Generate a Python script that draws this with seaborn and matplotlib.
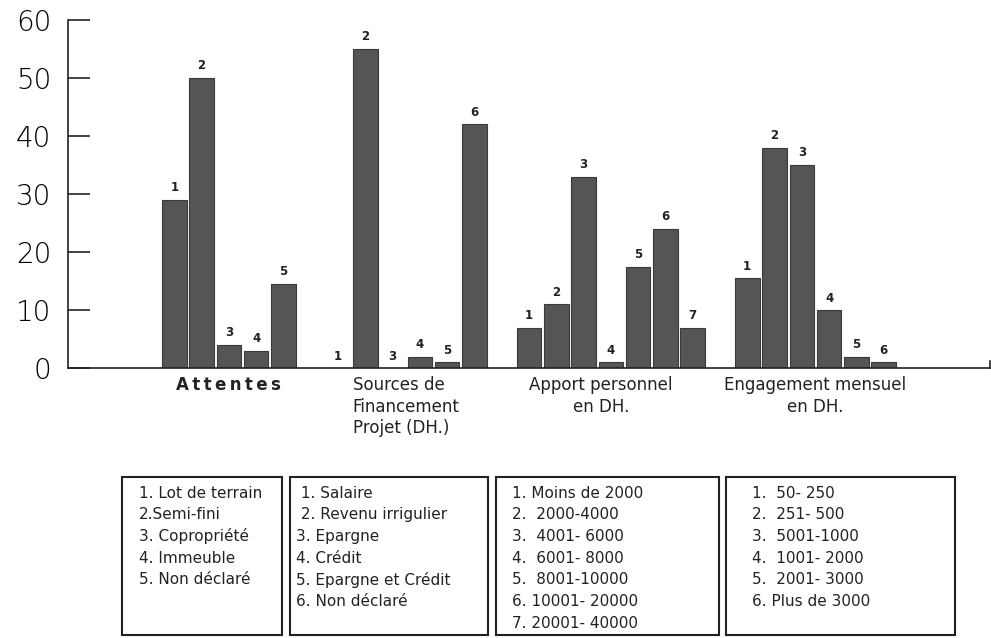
import matplotlib
matplotlib.use('Agg')
import matplotlib.pyplot as plt
import matplotlib.transforms as mtransforms
import pandas as pd
import seaborn as sns
from matplotlib.patches import Rectangle

# valeurs (%)
attentes = [29, 50, 4, 3, 14.5]
sources = [0, 55, 0, 2, 1, 42]
apport = [7, 11, 33, 1, 17.5, 24, 7]
engagement = [15.5, 38, 35, 10, 2, 1]

groupes = ['A\u2009t\u2009t\u2009e\u2009n\u2009t\u2009e\u2009s',
           'Sources de\nFinancement\nProjet (DH.)',
           'Apport personnel\nen DH.', 'Engagement mensuel\nen DH.']

leg_attentes = ['1. Lot de terrain', '2.Semi-fini', '3. Copropriété',
                '4. Immeuble', '5. Non déclaré']
leg_sources = [' 1. Salaire', ' 2. Revenu irrigulier', '3. Epargne',
               '4. Crédit', '5. Epargne et Crédit', '6. Non déclaré']
leg_apport = ['1. Moins de 2000', '2.  2000-4000', '3.  4001- 6000',
              '4.  6001- 8000', '5.  8001-10000', '6. 10001- 20000',
              '7. 20001- 40000']
leg_engagement = ['1.  50- 250', '2.  251- 500', '3.  5001-1000',
                  '4.  1001- 2000', '5.  2001- 3000', '6. Plus de 3000']

series = [attentes, sources, apport, engagement]

# une case vide entre chaque groupe
rows = []
centres = []
pos = 0
for g, vals in enumerate(series):
    start = pos
    for i, v in enumerate(vals):
        rows.append({'pos': pos, 'val': v, 'num': str(i + 1), 'groupe': g})
        pos += 1
    centres.append((start + pos - 1) / 2)
    pos += 1
df = pd.DataFrame(rows)

sns.set_style('white')
plt.rcParams['font.family'] = ['DejaVu Sans']

fig = plt.figure(figsize=(9.91, 6.38), dpi=100)
ax = fig.add_axes([0.0686, 0.423, 0.9304, 0.5457])

sns.barplot(data=df, x='pos', y='val', native_scale=True, width=0.9,
            color='#555555', edgecolor='#3a3a3a', linewidth=0.8,
            saturation=1, ax=ax, errorbar=None)

for bar, num in zip(ax.patches, df['num']):
    ax.annotate(num, (bar.get_x() + bar.get_width() / 2, bar.get_height()),
                xytext=(0, 4), textcoords='offset points',
                ha='center', va='bottom', fontsize=8.5, fontweight='bold',
                color='#222222')

ax.set_xlim(-3.9, 29.9)
ax.set_ylim(0, 60)
ax.set_yticks(range(0, 61, 10))
ax.tick_params(axis='y', direction='in', length=16, width=1.2,
               labelsize=20, pad=12, colors='#222222', left=True)
for lab in ax.get_yticklabels():
    lab.set_fontweight('light')
    lab.set_color('#000000')
ax.set_xticks(centres)
ax.set_xticklabels(groupes)
ax.tick_params(axis='x', length=0, pad=6, labelsize=12, colors='#222222')
for lab in ax.get_xticklabels():
    lab.set_horizontalalignment('center')
    lab.set_linespacing(1.25)
ax.get_xticklabels()[1].set_multialignment('left')
ax.get_xticklabels()[0].set_fontweight('bold')
# "Apport personnel" un peu décalé vers la gauche dans l'original
lab2 = ax.get_xticklabels()[2]
lab2.set_transform(lab2.get_transform() +
                   mtransforms.ScaledTranslation(-10 / 100, 0, fig.dpi_scale_trans))
ax.set_xlabel('')
ax.set_ylabel('')
ax.spines['top'].set_visible(False)
ax.spines['right'].set_bounds(0, 1.3)
for s in ['left', 'bottom', 'right']:
    ax.spines[s].set_color('#222222')
    ax.spines[s].set_linewidth(1.2)

# encadrés de légende
W, H = 991, 638
boxes = [(122, 282, 139, leg_attentes), (290, 488, 296, leg_sources),
         (496, 719, 512, leg_apport), (726, 955, 752, leg_engagement)]
for x0, x1, xt, lines in boxes:
    fig.patches.append(Rectangle((x0 / W, 1 - 635 / H), (x1 - x0) / W,
                                 (635 - 477) / H, transform=fig.transFigure,
                                 fill=False, edgecolor='#222222', linewidth=1.5))
    for k, t in enumerate(lines):
        fig.text(xt / W, 1 - (493 + k * 21.7) / H, t, fontsize=11,
                 ha='left', va='center', color='#222222')

fig.savefig('out.png', dpi=100)
